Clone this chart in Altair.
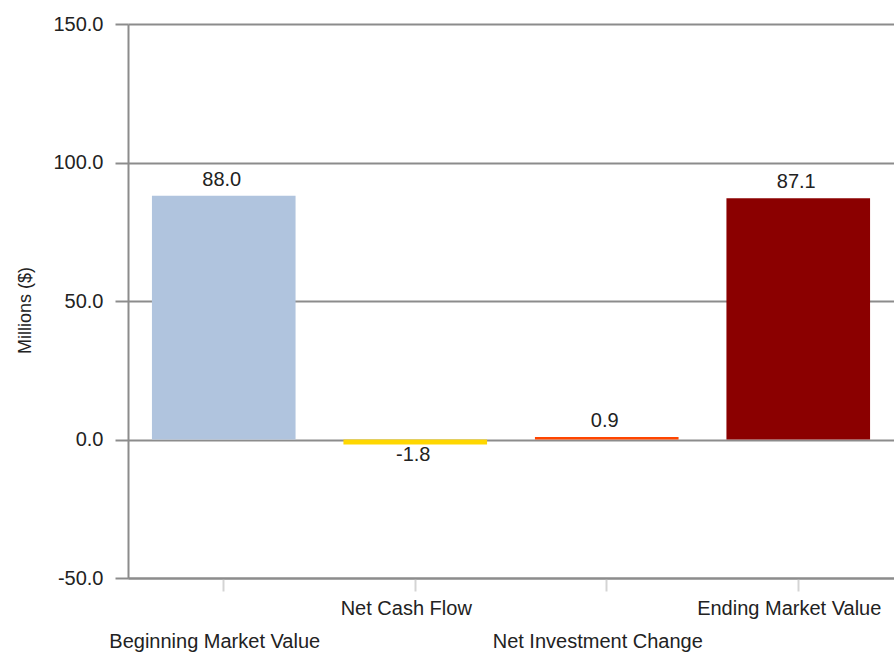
import altair as alt
import pandas as pd

categories = ["Beginning Market Value", "Net Cash Flow", "Net Investment Change", "Ending Market Value"]
values = [88.0, -1.8, 0.9, 87.1]
colors = ["#B0C4DE", "#FFD700", "#FF4500", "#8B0000"]

df = pd.DataFrame({"cat": categories, "val": values, "color": colors,
                   "label": [f"{v:.1f}" for v in values]})

FONT = "Liberation Sans"
FS = 20

x = alt.X("cat:N", sort=categories, title=None,
          scale=alt.Scale(paddingInner=0.25, paddingOuter=0.125),
          axis=alt.Axis(labelAngle=0, labelFont=FONT, labelFontSize=FS, labelColor="#222222",
                        labelOffset=-9, labelPadding=7, labelLineHeight=33, labelLimit=0,
                        labelExpr="(datum.index == 0 || datum.index > 0.5 && datum.index < 0.8) ? ['', datum.value] : datum.value",
                        tickSize=13, tickColor="#d4d4d4", tickWidth=2,
                        domainColor="#8c8c8c", domainWidth=2, labelOverlap=False, labelBound=False))
y = alt.Y("val:Q", title="Millions ($)",
          scale=alt.Scale(domain=[-50, 150], nice=False, zero=False),
          axis=alt.Axis(values=[-50, 0, 50, 100, 150],
                        labelExpr="replace(format(datum.value, '.1f'), '\u2212', '-')",
                        labelFont=FONT, labelFontSize=FS,
                        labelColor="#222222", labelPadding=12, tickSize=13, tickColor="#8c8c8c", tickWidth=2,
                        domainColor="#8c8c8c", domainWidth=2, gridColor="#8c8c8c", gridWidth=2,
                        titleFont=FONT, titleFontSize=18, titleFontWeight="normal", titleColor="#222222",
                        titleX=-103, titleY=286, titleAngle=-90, titleBaseline="middle"))

base = alt.Chart(df)
bars = base.mark_bar().encode(
    x=x, y=y, y2=alt.datum(0),
    color=alt.Color("color:N", scale=None, legend=None))

pos = base.transform_filter("datum.val >= 0").mark_text(
    font=FONT, fontSize=FS, color="#222222", baseline="bottom", dy=-6, dx=-2).encode(
    x=alt.X("cat:N", sort=categories), y="val:Q", text="label:N")
neg = base.transform_filter("datum.val < 0").mark_text(
    font=FONT, fontSize=FS, color="#222222", baseline="top", dy=1, dx=-2).encode(
    x=alt.X("cat:N", sort=categories), y="val:Q", text="label:N")

chart = alt.layer(bars, pos, neg).properties(
    width=766, height=554,
    padding={"left": 128, "top": 24, "right": 0, "bottom": 79},
    autosize="none",
).configure_view(stroke=None).configure_axisX(grid=False)

chart.save("out.html", embed_options={"renderer": "svg", "actions": False})
